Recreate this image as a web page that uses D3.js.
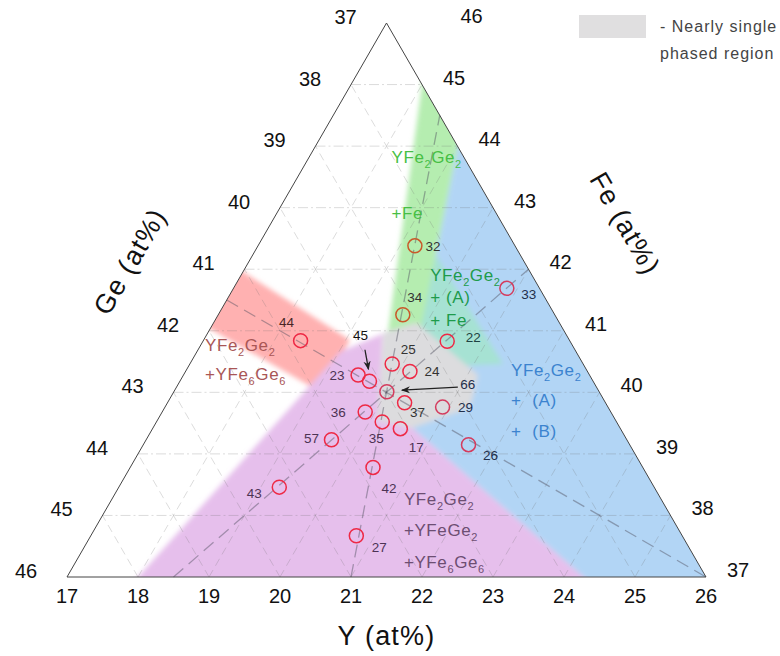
<!DOCTYPE html>
<meta charset="utf-8">
<body style="margin:0;background:#fff">
<svg width="780" height="656"></svg>
<script src="https://d3js.org/d3.v7.min.js"></script>
<script>

// composition window (at%)
var yMin = 17, feMin = 37, geMin = 37, span = 9;
var yTicks  = [17, 18, 19, 20, 21, 22, 23, 24, 25, 26];
var geTicks = [37, 38, 39, 40, 41, 42, 43, 44, 45, 46];
var feTicks = [37, 38, 39, 40, 41, 42, 43, 44, 45, 46];

// samples: Y and Fe in at%, Ge = rest
var sampleIds   = ["44", "23", "45", "66", "25", "24", "37", "36", "35", "17",
                   "57", "34", "22", "29", "26", "32", "33", "42", "43", "27"];
var sampleY     = [18.37, 19.46, 19.67, 20.00, 19.85, 20.16, 20.34, 19.86, 20.18, 20.49,
                   19.61, 19.60, 20.44, 20.91, 21.58, 19.21, 20.85, 20.42, 19.26, 20.74];
var sampleFe    = [40.84, 40.28, 40.18, 40.01, 40.46, 40.34, 39.83, 39.68, 39.52, 39.41,
                   39.23, 41.26, 40.83, 39.76, 39.15, 42.38, 41.69, 38.78, 38.46, 37.67];
var samplePhase = ["pink", "purple", "black", "blue", "grey", "grey", "grey", "purple", "purple", "purple",
                   "purple", "green", "teal", "blue", "blue", "green", "blue", "purple", "purple", "purple"];

// tie lines through YFe2Ge2, [Y, Fe] end points
var tieLines = [
  [[17, 41.5], [26, 37]],
  [[18.5, 37], [21, 42]],
  [[21, 37], [18.5, 44.5]]
];

// phase regions, [Y, Fe] corners (some poke outside the triangle, clipped later)
var blueRegion   = [[20.0, 40.93], [18.84, 44.5], [27.5, 36.0], [25.02, 36.5], [20.65, 39.42]];
var tealRegion   = [[19.59, 42.22], [21.41, 40.46], [20.82, 40.43], [19.91, 41.02]];
var greenRegion  = [[19.55, 40.93], [17.81, 45.5], [18.84, 44.5], [20.0, 40.93]];
var pinkRegion   = [[16.7, 42.12], [19.06, 40.85], [19.06, 40.01], [16.7, 41.18]];
var purpleRegion = [[17.86, 36.5], [19.02, 40.66], [19.47, 40.95], [20.10, 39.55], [20.65, 39.42], [25.02, 36.5]];
var greyRegion   = [[19.47, 40.97], [19.86, 41.13], [21.15, 40.28], [21.30, 39.75], [20.65, 39.42], [20.09, 39.55]];

var regionNames = [
  ["YFe2Ge2", "+Fe"],
  ["YFe2Ge2", "+ (A)", "+ Fe"],
  ["YFe2Ge2", "+  (A)", "+  (B)"],
  ["YFe2Ge2", "+YFe6Ge6"],
  ["YFe2Ge2", "+YFeGe2", "+YFe6Ge6"]
];
var regionNameAt = [[18.21, 43.72], [19.71, 41.81], [21.62, 40.27], [17.11, 40.67], [21.16, 38.17]];

var svg = d3.select("svg");
var x = d3.scaleLinear().domain([yMin, yMin + span]).range([67, 706]);
var h = d3.scaleLinear().domain([feMin, feMin + span]).range([577, 23]);
function px(yv, fe) { return x(yv + (fe - feMin) / 2); }
function py(fe) { return h(fe); }
function pt(d) { return [px(d[0], d[1]), py(d[1])]; }

var font = "Liberation Sans, Arial, sans-serif";
var fills = {blue: "#b2d5f5", teal: "#a6e2d3", green: "#b5edb0", pink: "#ffb1b1", purple: "#e6bfec", grey: "#dcdcde"};
var ringCol = {green: "#c9592a", blue: "#d43c5e"};
var textCol = {pink: "#4a2626", purple: "#4d3354", black: "#111", blue: "#1f2f4c", grey: "#333", green: "#333", teal: "#1e4242"};

var corners = [[yMin, feMin + span], [yMin, feMin], [yMin + span, feMin]];

var defs = svg.append("defs");
defs.append("clipPath").attr("id", "tri")
  .append("path").attr("d", "M" + corners.map(pt).join("L") + "Z");
var blur = defs.append("filter").attr("id", "soft")
  .attr("x", "-20%").attr("y", "-20%").attr("width", "140%").attr("height", "140%");
blur.append("feGaussianBlur").attr("stdDeviation", 2.6);
defs.append("marker").attr("id", "head")
  .attr("viewBox", "0 0 10 10").attr("refX", 9).attr("refY", 5)
  .attr("markerWidth", 7).attr("markerHeight", 7).attr("orient", "auto")
  .append("path").attr("d", "M0,1L10,5L0,9L3,5Z").attr("fill", "#222");

var line = d3.line().x(function(d) { return px(d[0], d[1]); }).y(function(d) { return py(d[1]); });

// regions
var regions = svg.append("g").attr("clip-path", "url(#tri)")
  .append("g").attr("filter", "url(#soft)");
[["blue", blueRegion], ["teal", tealRegion], ["green", greenRegion],
 ["pink", pinkRegion], ["purple", purpleRegion], ["grey", greyRegion]].forEach(function(r) {
  regions.append("path").attr("d", line(r[1]) + "Z").attr("fill", fills[r[0]]);
});

// grid
var grid = svg.append("g").attr("fill", "none").attr("stroke", "rgba(110,110,110,0.24)").attr("stroke-width", 1);
d3.range(feMin + 1, feMin + span).forEach(function(k) {
  grid.append("path").attr("d", line([[yMin, k], [100 - geMin - k, k]]))
    .attr("stroke-dasharray", "10,3,2,3");
});
d3.range(yMin + 1, yMin + span).forEach(function(k) {
  grid.append("path").attr("d", line([[k, feMin], [k, 100 - geMin - k]]))
    .attr("stroke-dasharray", "8,5");
});
d3.range(geMin + 1, geMin + span).forEach(function(g) {
  grid.append("path").attr("d", line([[100 - feMin - g, feMin], [yMin, 100 - yMin - g]]))
    .attr("stroke-dasharray", "8,5");
});

// tie lines
svg.append("g").selectAll("path").data(tieLines).join("path")
  .attr("d", line).attr("fill", "none")
  .attr("stroke", "rgba(80,80,95,0.45)").attr("stroke-width", 1.3)
  .attr("stroke-dasharray", "13,7");

// triangle outline
svg.append("path").attr("d", "M" + corners.map(pt).join("L") + "Z")
  .attr("fill", "none").attr("stroke", "#444").attr("stroke-width", 1);

// tick labels
var ticks = svg.append("g").attr("font-family", font)
  .attr("font-size", 20).attr("fill", "#111").attr("text-anchor", "middle");
ticks.selectAll(".ty").data(yTicks).join("text")
  .attr("x", function(d) { return px(d, feMin); })
  .attr("y", py(feMin) + 26)
  .text(function(d) { return d; });
ticks.selectAll(".tg").data(geTicks).join("text")
  .attr("x", function(d) { return px(yMin, 100 - yMin - d) - 41; })
  .attr("y", function(d) { return py(100 - yMin - d) + 1; })
  .text(function(d) { return d; });
ticks.selectAll(".tf").data(feTicks).join("text")
  .attr("x", function(d) { return px(100 - geMin - d, d) + (d === feMin + span ? 85 : 32); })
  .attr("y", function(d) { return py(d) + 0; })
  .text(function(d) { return d; });

// axis titles
var titles = svg.append("g").attr("font-family", font)
  .attr("font-size", 27).attr("fill", "#111").attr("text-anchor", "middle")
  .attr("letter-spacing", 1.2);
titles.append("text").attr("x", px(yMin + span / 2, feMin)).attr("y", py(feMin) + 68).text("Y (at%)");
titles.append("text").attr("transform", "translate(138,266) rotate(-60)").text("Ge (at%)");
titles.append("text").attr("transform", "translate(617,228) rotate(60)").text("Fe (at%)");

// formula helper: digits become subscripts
function formula(sel, str) {
  var down = false;
  str.split(/(\d)/).forEach(function(part) {
    if (part === "") return;
    if (/\d/.test(part)) {
      sel.append("tspan").attr("font-size", 11).attr("dy", 5).text(part);
      down = true;
    } else {
      sel.append("tspan").attr("dy", down ? -5 : 0).text(part);
      down = false;
    }
  });
}

// region names
var regionText = ["#47bf45", "#1e9b4b", "#3b83cf", "#a95656", "#6d4e72"];
var names = svg.append("g").attr("font-family", font).attr("font-size", 17).attr("letter-spacing", 0.6);
var gaps = [56, 22.5, 30.5, 29, 31.5];
regionNames.forEach(function(lines, i) {
  var at = pt(regionNameAt[i]);
  lines.forEach(function(s, j) {
    var t = names.append("text").attr("x", at[0]).attr("y", at[1] + j * gaps[i])
      .attr("fill", regionText[i]).style("white-space", "pre");
    formula(t, s);
  });
});

// sample circles and numbers
var labelShift = {
  "44": [-14, -18], "23": [-21, 0], "45": [-9, -46], "66": [81, -8], "25": [16, -15],
  "24": [22, 0], "37": [13, 9], "36": [-27, 0], "35": [-6, 16], "17": [16, 19],
  "57": [-20, -2], "34": [12, -18], "22": [26, -4], "29": [23, 0], "26": [22, 11],
  "32": [18, 0], "33": [22, 6], "42": [16, 21], "43": [-25, 6], "27": [23, 11]
};
var arrows = {"45": [[-4.5, -31.5], [-1, -12]], "66": [[71, -4.5], [15, -1.5]]};

var samples = sampleIds.map(function(id, i) {
  return {id: id, p: pt([sampleY[i], sampleFe[i]]), phase: samplePhase[i]};
});

svg.append("g").selectAll("circle").data(samples).join("circle")
  .attr("cx", function(d) { return d.p[0]; })
  .attr("cy", function(d) { return d.p[1]; })
  .attr("r", 7).attr("fill", "none")
  .attr("stroke", function(d) { return ringCol[d.phase] || "#ee2945"; })
  .attr("stroke-width", 1.5);

svg.append("g").selectAll("line").data(samples.filter(function(d) { return arrows[d.id]; })).join("line")
  .attr("x1", function(d) { return d.p[0] + arrows[d.id][0][0]; })
  .attr("y1", function(d) { return d.p[1] + arrows[d.id][0][1]; })
  .attr("x2", function(d) { return d.p[0] + arrows[d.id][1][0]; })
  .attr("y2", function(d) { return d.p[1] + arrows[d.id][1][1]; })
  .attr("stroke", "#222").attr("stroke-width", 1.3).attr("marker-end", "url(#head)");

svg.append("g").attr("font-family", font).attr("font-size", 13.5)
  .attr("text-anchor", "middle")
  .selectAll("text").data(samples).join("text")
  .attr("x", function(d) { return d.p[0] + labelShift[d.id][0]; })
  .attr("y", function(d) { return d.p[1] + labelShift[d.id][1] + 4.8; })
  .attr("fill", function(d) { return textCol[d.phase]; })
  .text(function(d) { return d.id; });

// legend
var legend = svg.append("g").attr("font-family", font)
  .attr("font-size", 16).attr("fill", "#444").attr("letter-spacing", 1);
legend.append("rect").attr("x", 579).attr("y", 15).attr("width", 67).attr("height", 23).attr("fill", "#e0dfe0");
legend.append("text").attr("x", 660).attr("y", 32).text("- Nearly single");
legend.append("text").attr("x", 660).attr("y", 59).text("phased region");

</script>
</body>
